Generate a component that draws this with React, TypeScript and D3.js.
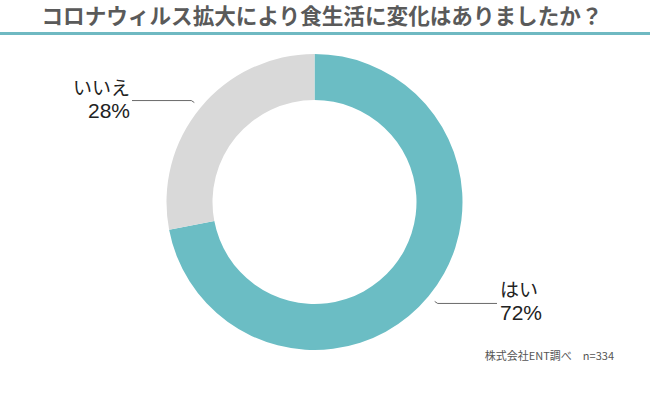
import React from 'react';
import * as d3 from 'd3';

const title = 'コロナウィルス拡大により食生活に変化はありましたか？';
const categories = ['はい', 'いいえ'];
const percents = [72, 28];
const colors = ['#6bbdc4', '#d9d9d9'];
const source = '株式会社ENT調べ　n=334';

const W = 650;
const H = 396;
const cx = 314.5;
const cy = 202;
const outerR = 148;
const innerR = 102;
const font = '"Noto Sans CJK JP", "Liberation Sans", sans-serif';
const labelFont = '"Liberation Sans", "Noto Sans CJK JP", sans-serif';

const App: React.FC = () => {
  const pie = d3.pie<number>().sort(null).value(d => d);
  const arcs = pie(percents);
  const arc = d3.arc<d3.PieArcDatum<number>>().innerRadius(innerR).outerRadius(outerR);
  const tickArc = d3.arc<d3.PieArcDatum<number>>().innerRadius(156).outerRadius(156);

  return (
    <svg width={W} height={H} style={{ position: 'absolute', left: 0, top: 0, background: '#fff' }}>
      <text x={322} y={24} textAnchor="middle" fontFamily={font} fontSize={21.6} fontWeight={700} fill="#5a5a5a">
        {title}
      </text>
      <rect x={0} y={32} width={W} height={3} fill="#6fb9c2" />
      <g transform={`translate(${cx},${cy})`}>
        {arcs.map((a, i) => (
          <path key={i} d={arc(a) || ''} fill={colors[i]} />
        ))}
        {arcs.map((a, i) => {
          const [px, py] = tickArc.centroid(a);
          const right = px > 0;
          const dir = right ? 1 : -1;
          const endX = right ? 497 - cx : 132 - cx;
          const ly = py + (right ? 2 : -2);
          const pts = [[px, py], [px + 3 * dir, ly], [endX, ly]];
          const tx = right ? endX + 3 : endX - 2;
          return (
            <g key={'l' + i}>
              <polyline points={pts.map(p => p.join(',')).join(' ')} fill="none" stroke="#444" strokeWidth={0.8} />
              <text x={tx} y={ly - 6} textAnchor={right ? 'start' : 'end'} fontFamily={labelFont} fontSize={19} fill="#222">
                {categories[i]}
              </text>
              <text x={tx} y={ly + 17} textAnchor={right ? 'start' : 'end'} fontFamily={labelFont} fontSize={21} fill="#222">
                {percents[i]}%
              </text>
            </g>
          );
        })}
      </g>
      <text x={614} y={360} textAnchor="end" fontFamily={font} fontSize={11} fill="#555">
        {source}
      </text>
    </svg>
  );
};

export default App;
